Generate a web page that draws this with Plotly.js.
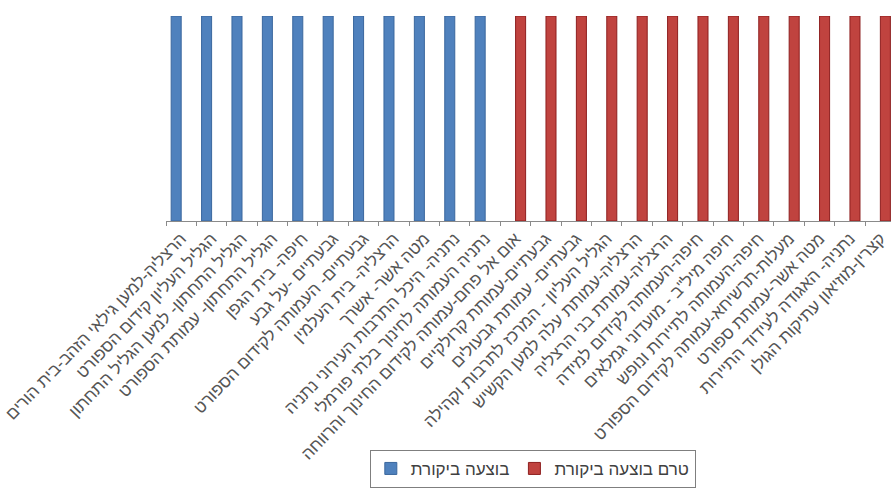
<!DOCTYPE html>
<html>
<head>
<meta charset="utf-8">
<script src="https://cdn.plot.ly/plotly-3.0.1.min.js"></script>
<style>html,body{margin:0;padding:0;background:#fff;}#chart{width:891px;height:501px;}</style>
</head>
<body>
<div id="chart"></div>
<script>
const categories = [
  "הרצליה-למען גילאי הזהב-בית הורים",
  "הגליל העליון קידום הספורט",
  "הגליל התחתון- למען הגליל התחתון",
  "הגליל התחתון- עמותת הספורט",
  "חיפה- בית הגפן",
  "גבעתיים -על גבע",
  "גבעתיים- העמותה לקידום הספורט",
  "הרצליה- בית העלמין",
  "מטה אשר- אשרך",
  "נתניה- היכל התרבות העירוני נתניה",
  "נתניה העמותה לחינוך בלתי פורמלי",
  "אום אל פחם-עמותה לקידום החינוך והרווחה",
  "גבעתיים-עמותת קרולקיים",
  "גבעתיים- עמותת גבעולים",
  "הגליל העליון - המרכז לתרבות וקהילה",
  "הרצליה-עמותת עלה למען הקשיש",
  "הרצליה-עמותת בני הרצליה",
  "חיפה-העמותה לקידום למידה",
  "חיפה מיל\"ב - מועדוני גמלאים",
  "חיפה-העמותה לתיירות ונופש",
  "מעלות-תרשיחא-עמותה לקידום הספורט",
  "מטה אשר-עמותת ספורט",
  "נתניה- האגודה לעידוד התיירות",
  "קצרין-מוזיאון עתיקות הגולן"
];
const seriesNames = ["בוצעה ביקורת", "טרם בוצעה ביקורת"];
const doneValues =    [1,1,1,1,1,1,1,1,1,1,1,null,null,null,null,null,null,null,null,null,null,null,null,null];
const notDoneValues = [null,null,null,null,null,null,null,null,null,null,null,1,1,1,1,1,1,1,1,1,1,1,1,1];

const traces = [
  {type:'bar', name:seriesNames[0], x:categories, y:doneValues,
   marker:{color:'#4f81bd', line:{color:'#3a679e', width:1}}},
  {type:'bar', name:seriesNames[1], x:categories, y:notDoneValues,
   marker:{color:'#c0433f', line:{color:'#8e1f1f', width:1}}}
];

const layout = {
  width:891, height:501,
  margin:{l:166, r:0, t:16, b:280},
  paper_bgcolor:'#ffffff', plot_bgcolor:'#ffffff',
  barmode:'group', bargap:0.34, bargroupgap:0,
  font:{family:'"Liberation Sans", Arial, sans-serif', color:'#505050', size:17},
  showlegend:true,
  legend:{orientation:'h', xref:'container', yref:'container', x:0.598, xanchor:'center',
          y:0.102, yanchor:'top', bordercolor:'#7f7f7f', borderwidth:1,
          font:{size:17, color:'#404040'}},
  xaxis:{type:'category', range:[-0.5, 23.35], tickangle:-46, automargin:false,
         showline:true, linecolor:'#8a8a8a', linewidth:1,
         ticks:'outside', ticklen:4, tickcolor:'#8a8a8a', tickson:'boundaries',
         showgrid:false, zeroline:false, tickfont:{size:17, color:'#555555'}},
  yaxis:{range:[0,1], visible:false, showgrid:false, zeroline:false, fixedrange:true}
};

Plotly.newPlot('chart', traces, layout, {displayModeBar:false, staticPlot:true});
</script>
</body>
</html>
